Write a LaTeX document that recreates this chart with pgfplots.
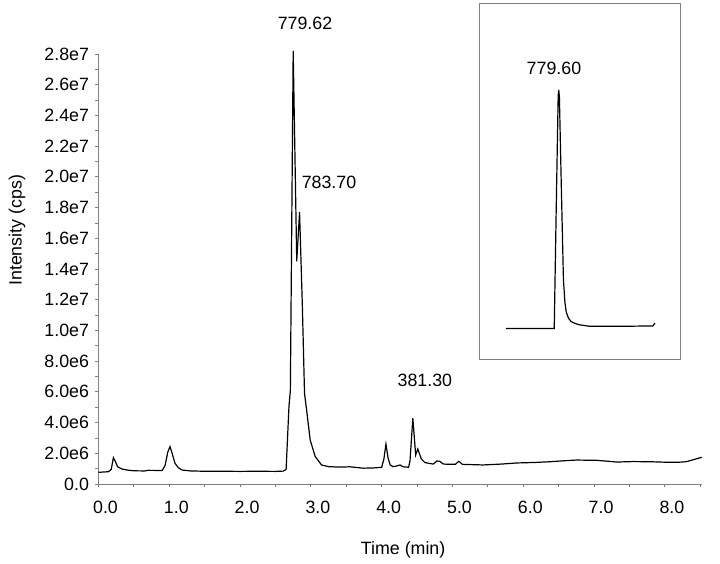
\documentclass[border=0pt]{standalone}
\usepackage{fontspec}
\setmainfont{Liberation Sans}
\usepackage{pgfplots}
\pgfplotsset{compat=1.18}

\pgfplotstableread{
t I
0.00 7.6e5
0.07 7.8e5
0.14 8.0e5
0.18 9.5e5
0.21 1.71e6
0.24 1.45e6
0.27 1.12e6
0.33 9.8e5
0.40 9.1e5
0.50 8.6e5
0.65 8.5e5
0.70 8.9e5
0.90 8.8e5
0.94 1.2e6
0.98 2.1e6
1.01 2.43e6
1.04 2.0e6
1.08 1.35e6
1.13 1.05e6
1.18 9.1e5
1.30 8.5e5
1.50 8.3e5
1.75 8.3e5
2.00 8.2e5
2.25 8.3e5
2.50 8.2e5
2.61 8.4e5
2.65 9.5e5
2.68 4.0e6
2.69 5.03e6
2.71 6.1e6
2.75 2.82e7
2.80 1.45e7
2.84 1.77e7
2.88 1.15e7
2.91 5.9e6
2.94 4.8e6
2.99 2.87e6
3.06 1.8e6
3.15 1.24e6
3.25 1.13e6
3.40 1.10e6
3.55 1.12e6
3.74 1.03e6
3.90 1.05e6
4.00 1.09e6
4.03 1.6e6
4.06 2.6e6
4.09 1.7e6
4.12 1.24e6
4.16 1.13e6
4.21 1.17e6
4.26 1.24e6
4.30 1.12e6
4.38 1.09e6
4.40 1.5e6
4.44 4.28e6
4.48 1.89e6
4.51 2.28e6
4.56 1.63e6
4.61 1.40e6
4.66 1.35e6
4.73 1.30e6
4.78 1.50e6
4.82 1.48e6
4.87 1.30e6
4.96 1.28e6
5.04 1.28e6
5.09 1.48e6
5.14 1.28e6
5.43 1.24e6
5.70 1.30e6
5.91 1.37e6
6.15 1.40e6
6.38 1.45e6
6.60 1.52e6
6.75 1.56e6
7.04 1.54e6
7.20 1.48e6
7.32 1.43e6
7.55 1.46e6
7.79 1.45e6
8.00 1.42e6
8.17 1.41e6
8.30 1.45e6
8.40 1.58e6
8.52 1.74e6
}\tic

\pgfplotstableread{
t I
1.967 2.92e6
2.649 2.92e6
2.676 1.394e7
2.705 2.52e7
2.713 2.57e7
2.722 2.50e7
2.747 1.71e7
2.779 7.55e6
2.800 5.4e6
2.818 4.5e6
2.850 3.9e6
2.888 3.57e6
2.950 3.38e6
3.012 3.26e6
3.154 3.12e6
3.577 3.12e6
4.043 3.16e6
4.072 3.43e6
}\xic

\begin{document}
\fontsize{8.9}{10}\selectfont
\begin{tikzpicture}
\useasboundingbox (-49.25pt,-40pt) rectangle (310.75pt,242pt);
\begin{axis}[
  name=main,
  at={(0,0)}, anchor=south west,
  scale only axis,
  width=301.6pt, height=215pt,
  xmin=0, xmax=8.52,
  ymin=0, ymax=2.8e7,
  axis x line=bottom, axis y line=left,
  axis line style={-, gray, line width=0.5pt},
  tick style={gray, line width=0.4pt},
  tick align=outside,
  major tick length=1.6pt, minor tick length=1.6pt,
  xtick={0,1,2,3,4,5,6,7,8},
  xticklabels={0.0,1.0,2.0,3.0,4.0,5.0,6.0,7.0,8.0},
  minor xtick={0.5,1.5,2.5,3.5,4.5,5.5,6.5,7.5,8.5},
  ytick={0,2e6,4e6,6e6,8e6,1e7,1.2e7,1.4e7,1.6e7,1.8e7,2e7,2.2e7,2.4e7,2.6e7,2.8e7},
  yticklabels={0.0,2.0e6,4.0e6,6.0e6,8.0e6,1.0e7,1.2e7,1.4e7,1.6e7,1.8e7,2.0e7,2.2e7,2.4e7,2.6e7,2.8e7},
  minor ytick={1e6,3e6,5e6,7e6,9e6,1.1e7,1.3e7,1.5e7,1.7e7,1.9e7,2.1e7,2.3e7,2.5e7,2.7e7},
  scaled y ticks=false,
  xticklabel style={xshift=3.5pt, yshift=-4pt},
  xlabel={Time (min)},
  ylabel={Intensity (cps)},
  xlabel style={at={(axis description cs:0.505,-0.153)}, anchor=center},
  ylabel style={at={(axis description cs:-0.135,0.59)}, anchor=center},
  clip=false,
]
\addplot[black, line width=0.6pt] table[x=t, y=I] {\tic};
\node at (axis cs:2.917,3.0e7) {779.62};
\node at (axis cs:3.256,1.966e7) {783.70};
\node at (axis cs:4.61,6.77e6) {381.30};
\end{axis}
\begin{axis}[
  at={(190.75pt,62.5pt)}, anchor=south west,
  scale only axis,
  width=100.5pt, height=178pt,
  xmin=1.6, xmax=4.44,
  ymin=0, ymax=3.4e7,
  axis line style={gray, line width=0.5pt},
  xtick=\empty, ytick=\empty,
  clip=false,
]
\addplot[black, line width=0.6pt] table[x=t, y=I] {\xic};
\node at (axis cs:2.645,2.78e7) {779.60};
\end{axis}
\end{tikzpicture}
\end{document}
